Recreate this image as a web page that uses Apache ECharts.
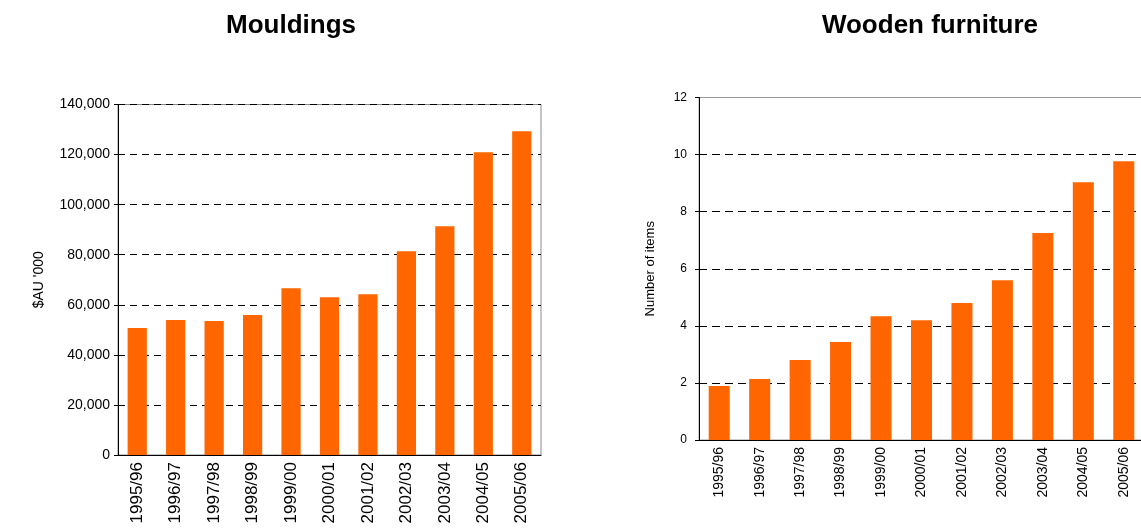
<!DOCTYPE html>
<html>
<head>
<meta charset="utf-8">
<script src="https://cdn.jsdelivr.net/npm/echarts@6/dist/echarts.min.js"></script>
<style>
  html, body { margin: 0; padding: 0; background: #fff; }
  #chart { width: 1141px; height: 532px; }
</style>
</head>
<body>
<div id="chart"></div>
<script>
var years = ['1995/96', '1996/97', '1997/98', '1998/99', '1999/00', '2000/01', '2001/02', '2002/03', '2003/04', '2004/05', '2005/06'];
var mouldings = [50700, 53900, 53500, 55900, 66600, 63000, 64200, 81400, 91400, 120900, 129300];
var furniture = [1.89, 2.14, 2.80, 3.43, 4.34, 4.20, 4.80, 5.60, 7.25, 9.03, 9.77];

var orange = '#FF6600';
var font = 'Liberation Sans, Arial, sans-serif';

var chart = echarts.init(document.getElementById('chart'));

function axisX(idx, size, margin) {
  return {
    type: 'category',
    gridIndex: idx,
    data: years,
    axisLine: { lineStyle: { color: '#000', width: 1 } },
    axisTick: { length: 4, lineStyle: { color: '#000' } },
    axisLabel: { rotate: 90, color: '#000', fontSize: size, fontFamily: font, margin: margin, interval: 0 }
  };
}

chart.setOption({
  animation: false,
  title: [
    { text: 'Mouldings', left: 286, top: 8, textAlign: 'center',
      textStyle: { fontSize: 26, fontWeight: 'bold', fontFamily: font, color: '#000' } },
    { text: 'Wooden furniture', left: 925, top: 8, textAlign: 'center',
      textStyle: { fontSize: 26, fontWeight: 'bold', fontFamily: font, color: '#000' } }
  ],
  grid: [
    { left: 118, top: 104.5, width: 423, height: 350.5, show: true, borderColor: '#888', borderWidth: 1,
      outerBoundsMode: 'none', containLabel: false },
    { left: 699, top: 97.5, width: 445, height: 342.5, show: true, borderColor: '#999', borderWidth: 1,
      outerBoundsMode: 'none', containLabel: false }
  ],
  xAxis: [axisX(0, 17, 7), axisX(1, 14, 7)],
  yAxis: [
    {
      type: 'value', gridIndex: 0, min: 0, max: 140000, interval: 20000,
      name: "$AU '000", nameLocation: 'middle', nameGap: 72,
      nameTextStyle: { fontSize: 14, fontFamily: font, color: '#000' },
      axisLine: { show: true, lineStyle: { color: '#000' } },
      axisTick: { show: true, length: 4, lineStyle: { color: '#000' } },
      axisLabel: { color: '#000', fontSize: 14, fontFamily: font, margin: 8,
        formatter: function (v) { return v.toLocaleString('en-US'); } },
      splitLine: { lineStyle: { color: '#000', type: [7, 5] } }
    },
    {
      type: 'value', gridIndex: 1, min: 0, max: 12, interval: 2,
      name: 'Number of items', nameLocation: 'middle', nameGap: 42,
      nameTextStyle: { fontSize: 13, fontFamily: font, color: '#000' },
      axisLine: { show: true, lineStyle: { color: '#000' } },
      axisTick: { show: true, length: 4, lineStyle: { color: '#000' } },
      axisLabel: { color: '#000', fontSize: 12, fontFamily: font, margin: 12 },
      splitLine: { showMaxLine: false, lineStyle: { color: '#000', type: [8, 5] } }
    }
  ],
  series: [
    { type: 'bar', xAxisIndex: 0, yAxisIndex: 0, data: mouldings, barWidth: '50%',
      itemStyle: { color: orange } },
    { type: 'bar', xAxisIndex: 1, yAxisIndex: 1, data: furniture, barWidth: '52%',
      itemStyle: { color: orange } }
  ]
});
</script>
</body>
</html>
